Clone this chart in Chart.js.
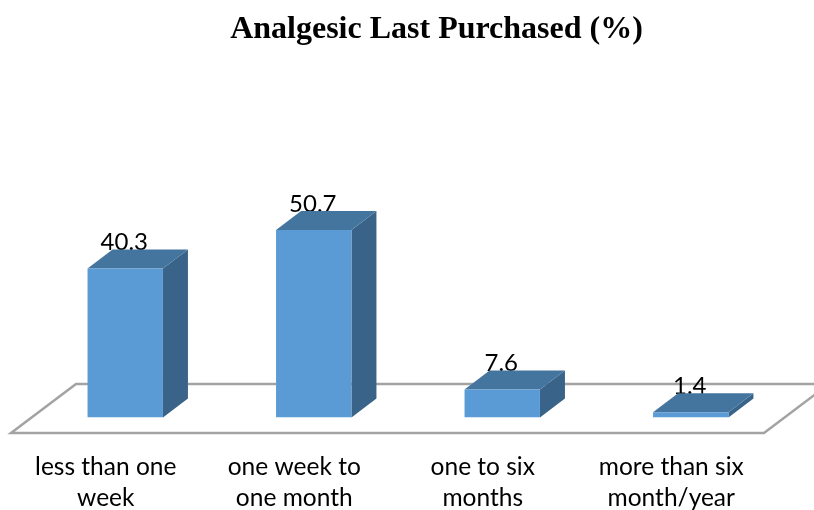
<!DOCTYPE html>
<html>
<head>
<meta charset="utf-8">
<title>Analgesic Last Purchased (%)</title>
<script src="https://cdn.jsdelivr.net/npm/chart.js@4/dist/chart.umd.min.js"></script>
<style>
	html, body { margin: 0; padding: 0; background: #fff; }
	canvas { display: block; }
</style>
</head>
<body>
<canvas id="chart" width="814" height="510"></canvas>
<script>
const categories = [
	["less than one", "week"],
	["one week to", "one month"],
	["one to six", "months"],
	["more than six", "month/year"],
];
const percents = [40.3, 50.7, 7.6, 1.4];

const LABEL_FONT = "Lato, 'Open Sans', sans-serif";
const DEPTH_X = 25;
const DEPTH_Y = 19;

function poly(ctx, pts) {
	ctx.beginPath();
	pts.forEach(([x, y], i) => (i ? ctx.lineTo(x, y) : ctx.moveTo(x, y)));
	ctx.closePath();
}

// fake 3D: floor and side faces go under the front face the library draws
const box3d = {
	id: "box3d",
	afterLayout(chart) {
		// title sits right of the plot centre in the original
		chart.titleBlock.left += 28.5;
		chart.titleBlock.right += 28.5;
	},
	beforeDatasetsDraw(chart) {
		const { ctx, chartArea } = chart;
		const base = chart.scales.y.getPixelForValue(0);
		const { left, right } = chartArea;

		// floor
		poly(ctx, [
			[left - 20, base + 15.5],
			[right - 21, base + 15.5],
			[right + 44, base - 33.5],
			[left + 45, base - 33.5],
		]);
		ctx.strokeStyle = "#a3a3a3";
		ctx.lineWidth = 2.5;
		ctx.stroke();

		chart.getDatasetMeta(0).data.forEach((bar, i) => {
			const half = bar.width / 2;
			const l = bar.x - half;
			const r = bar.x + half;

			// value label, the top face cuts into it
			ctx.fillStyle = "#000";
			ctx.font = "24px " + LABEL_FONT;
			ctx.textAlign = "center";
			ctx.textBaseline = "alphabetic";
			ctx.fillText(String(percents[i]), bar.x - 1, bar.y - 18);

			poly(ctx, [[r, bar.y], [r + DEPTH_X, bar.y - DEPTH_Y], [r + DEPTH_X, base - DEPTH_Y], [r, base]]);
			ctx.fillStyle = "#3a6389";
			ctx.fill();

			poly(ctx, [[l, bar.y], [l + DEPTH_X, bar.y - DEPTH_Y], [r + DEPTH_X, bar.y - DEPTH_Y], [r, bar.y]]);
			ctx.fillStyle = "#44759f";
			ctx.fill();
		});
	},
};

new Chart(document.getElementById("chart").getContext("2d"), {
	type: "bar",
	data: {
		labels: categories,
		datasets: [
			{
				label: "Analgesic Last Purchased (%)",
				data: percents,
				backgroundColor: "#5b9bd5",
				borderWidth: 0,
				barPercentage: 0.4,
				categoryPercentage: 1,
			},
		],
	},
	options: {
		responsive: false,
		animation: false,
		devicePixelRatio: 1,
		layout: { padding: { top: 10, left: 31, right: 29, bottom: 0 } },
		plugins: {
			legend: { display: false },
			tooltip: { enabled: false },
			title: {
				display: true,
				text: "Analgesic Last Purchased (%)",
				color: "#000",
				font: { family: "'Liberation Serif', serif", size: 32, weight: "bold", lineHeight: 1 },
				padding: { top: 4, bottom: 1.5 },
			},
		},
		scales: {
			y: { display: false, min: 0, max: 100 },
			x: {
				grid: { display: false },
				border: { display: false },
				afterFit: (scale) => {
					scale.height = 92.5;
				},
				ticks: {
					color: "#000",
					padding: 26,
					labelOffset: -19.5,
					maxRotation: 0,
					autoSkip: false,
					font: { family: LABEL_FONT, size: 24.5, lineHeight: 1.27 },
				},
			},
		},
	},
	plugins: [box3d],
});
</script>
</body>
</html>
